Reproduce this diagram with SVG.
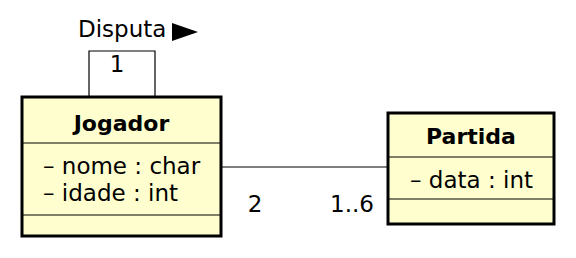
<svg xmlns="http://www.w3.org/2000/svg" width="576" height="258" viewBox="0 0 576 258">
  <style>
    .cls { fill: #FEFECE; stroke: #000; stroke-width: 3; }
    .sep { stroke: #000; stroke-width: 1.2; }
    .edge { fill: none; stroke: #000; stroke-width: 1.2; }
    text { font-family: "DejaVu Sans", sans-serif; font-size: 23px; fill: #000; }
    .title { font-weight: bold; font-size: 22px; text-anchor: middle; }
  </style>
  <rect width="576" height="258" fill="#fff"/>
  <g id="connectors">
    <!-- self association on Jogador -->
    <polyline class="edge" points="89,97 89,51 155,51 155,97"/>
    <text x="117" y="72" text-anchor="middle">1</text>
    <text x="78" y="37">Disputa</text>
    <polygon points="172,23 198,32 172,41" fill="#000"/>
    <!-- Jogador to Partida -->
    <line class="edge" x1="221" y1="167" x2="388" y2="167"/>
    <text x="255" y="212" text-anchor="middle">2</text>
    <text x="330" y="212">1..6</text>
  </g>
  <g id="Jogador">
    <rect class="cls" x="22" y="97" width="199" height="139"/>
    <line class="sep" x1="22" y1="143" x2="221" y2="143"/>
    <line class="sep" x1="22" y1="215" x2="221" y2="215"/>
    <text class="title" x="121.5" y="131">Jogador</text>
    <text x="43" y="174">– nome : char</text>
    <text x="43" y="201">– idade : int</text>
  </g>
  <g id="Partida">
    <rect class="cls" x="388" y="113" width="166" height="111"/>
    <line class="sep" x1="388" y1="157" x2="554" y2="157"/>
    <line class="sep" x1="388" y1="199" x2="554" y2="199"/>
    <text class="title" x="471" y="144">Partida</text>
    <text x="410" y="188">– data : int</text>
  </g>
</svg>
